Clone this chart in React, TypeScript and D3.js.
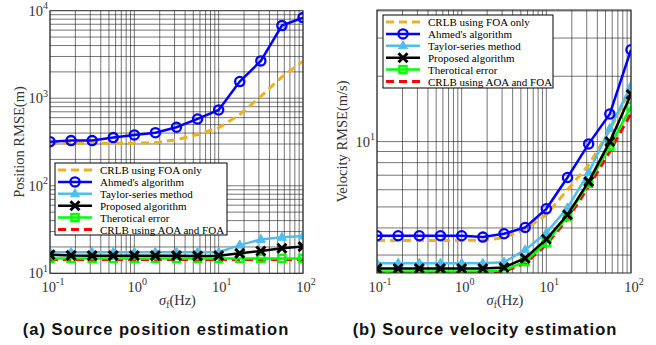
import React from "react";
import * as d3 from "d3";

const W = 656;
const H = 345;

// sigma_f values (Hz), quarter-decade steps
const xs = [0.1, 0.1778, 0.3162, 0.5623, 1, 1.778, 3.162, 5.623, 10, 17.78, 31.62, 56.23, 100];

const seriesNames = [
  "CRLB using FOA only",
  "Ahmed's algorithm",
  "Taylor-series method",
  "Proposed algorithm",
  "Therotical error",
  "CRLB using AOA and FOA",
];

// (a) position RMSE (m)
const posCrlbFoa = [305, 305, 305, 305, 306, 311, 335, 385, 460, 650, 1050, 1750, 2650];
const posAhmed = [319, 328, 328, 355, 381, 404, 466, 580, 735, 1550, 2670, 6760, 8340];
const posTaylor = [17.4, 17.4, 17.4, 17.4, 17.4, 17.4, 17.4, 17.4, 17.4, 21, 24.4, 25.8, 26.7];
const posProposed = [16.3, 16.0, 15.9, 15.9, 15.9, 15.9, 15.9, 15.8, 15.9, 16.9, 18.0, 19.3, 20.2];
const posTheory = [14.8, 14.8, 14.8, 14.8, 14.8, 14.8, 14.8, 14.8, 14.8, 14.8, 14.8, 14.8, 14.8];
const posCrlbAll = [14.4, 14.4, 14.4, 14.4, 14.4, 14.4, 14.4, 14.4, 14.4, 14.4, 14.4, 14.4, 14.4];

// (b) velocity RMSE (m/s)
const velCrlbFoa = [3.5, 3.5, 3.5, 3.5, 3.5, 3.52, 3.6, 3.95, 4.6, 6.0, 7.8, 11.3, 17.5];
const velAhmed = [3.68, 3.68, 3.68, 3.68, 3.68, 3.63, 3.76, 4.02, 4.9, 6.83, 9.76, 13.4, 26.5];
const velTaylor = [2.75, 2.75, 2.75, 2.75, 2.75, 2.75, 2.78, 3.17, 3.8, 4.95, 7.2, 11.5, 18.1];
const velProposed = [2.6, 2.6, 2.6, 2.6, 2.6, 2.6, 2.63, 2.9, 3.55, 4.6, 6.54, 10.0, 16.5];
const velTheory = [2.52, 2.52, 2.52, 2.52, 2.52, 2.52, 2.55, 2.8, 3.42, 4.52, 6.43, 9.5, 14.5];
const velCrlbAll = [2.49, 2.49, 2.49, 2.49, 2.49, 2.49, 2.52, 2.75, 3.35, 4.4, 6.2, 9.0, 13.5];

const xTickExps = [-1, 0, 1, 2];
const posYTickExps = [1, 2, 3, 4];
const velYTickExps = [1];

const styles = [
  { color: "#edb120", width: 3, dash: "8,5", marker: "none" },
  { color: "#0000ff", width: 2.5, dash: null, marker: "circle" },
  { color: "#4dbeee", width: 2.5, dash: null, marker: "triangle" },
  { color: "#000000", width: 2.5, dash: null, marker: "x" },
  { color: "#00ff00", width: 2.5, dash: null, marker: "square" },
  { color: "#ff0000", width: 3, dash: "8,5", marker: "none" },
];
// draw order: CRLB all at the bottom
const drawOrder = [5, 4, 0, 2, 3, 1];

const serif = "'Liberation Serif', 'Times New Roman', serif";

function Marker({ kind, x, y, color }: { kind: string; x: number; y: number; color: string }) {
  if (kind === "circle")
    return <circle cx={x} cy={y} r={4.6} fill="none" stroke={color} strokeWidth={2.3} />;
  if (kind === "triangle")
    return <path d={`M${x},${y - 5}L${x + 4.5},${y + 3}L${x - 4.5},${y + 3}Z`} fill={color} stroke={color} strokeWidth={1} />;
  if (kind === "x")
    return (
      <path d={`M${x - 4.5},${y - 4.5}L${x + 4.5},${y + 4.5}M${x - 4.5},${y + 4.5}L${x + 4.5},${y - 4.5}`} stroke={color} strokeWidth={3} />
    );
  if (kind === "square")
    return <rect x={x - 3.6} y={y - 3.6} width={7.2} height={7.2} fill="none" stroke={color} strokeWidth={2.3} />;
  return null;
}

function Pow10({ x, y, e, anchor }: { x: number; y: number; e: number; anchor: string }) {
  return (
    <text x={x} y={y} textAnchor={anchor} fontFamily={serif} fontSize={14.5} fill="#333">
      10<tspan dy={-6.5} fontSize={10}>{e}</tspan>
    </text>
  );
}

type PanelProps = {
  id: string;
  left: number;
  right: number;
  top: number;
  bottom: number;
  yDomain: [number, number];
  yTickExps: number[];
  data: number[][];
  legend: { x: number; y: number; w: number; h: number };
  ylabel: string;
  ylabelX: number;
  caption: string;
  captionX: number;
};

function Panel(p: PanelProps) {
  const x = d3.scaleLog().domain([0.1, 100]).range([p.left, p.right]);
  const y = d3.scaleLog().domain(p.yDomain).range([p.bottom, p.top]);

  const xGrid: number[] = [];
  for (let e = -1; e < 2; e++) for (let k = 1; k <= 9; k++) xGrid.push(k * Math.pow(10, e));
  xGrid.push(100);
  const yGrid: number[] = [];
  for (let e = 0; e < 4; e++)
    for (let k = 1; k <= 9; k++) {
      const v = k * Math.pow(10, e);
      if (v >= p.yDomain[0] * 0.999 && v <= p.yDomain[1] * 1.001) yGrid.push(v);
    }

  const line = d3
    .line<number>()
    .x((_, i) => x(xs[i]))
    .y((d) => y(d));

  const cx = (p.left + p.right) / 2;
  const cy = (p.top + p.bottom) / 2;

  return (
    <g>
      <defs>
        <clipPath id={p.id}>
          <rect x={p.left} y={p.top} width={p.right - p.left} height={p.bottom - p.top} />
        </clipPath>
      </defs>
      <rect x={p.left} y={p.top} width={p.right - p.left} height={p.bottom - p.top} fill="#fff" />
      <g stroke="#1a1a1a" strokeWidth={0.8} strokeOpacity={0.75}>
        {xGrid.map((v, i) => (
          <line key={"gx" + i} x1={x(v)} x2={x(v)} y1={p.top} y2={p.bottom} />
        ))}
        {yGrid.map((v, i) => (
          <line key={"gy" + i} x1={p.left} x2={p.right} y1={y(v)} y2={y(v)} />
        ))}
      </g>
      <g clipPath={`url(#${p.id})`}>
        {drawOrder.map((si) => {
          const s = styles[si];
          return (
            <g key={"s" + si}>
              <path
                d={line(p.data[si]) || ""}
                fill="none"
                stroke={s.color}
                strokeWidth={s.width}
                strokeDasharray={s.dash || undefined}
              />
              {p.data[si].map((v, i) => (
                <Marker key={i} kind={s.marker} x={x(xs[i])} y={y(v)} color={s.color} />
              ))}
            </g>
          );
        })}
      </g>
      <rect x={p.left} y={p.top} width={p.right - p.left} height={p.bottom - p.top} fill="none" stroke="#262626" strokeWidth={1} />

      {xTickExps.map((e) => (
        <Pow10 key={"xt" + e} x={x(Math.pow(10, e)) + 3} y={p.bottom + 18.5} e={e} anchor="middle" />
      ))}
      {p.yTickExps.map((e) => (
        <Pow10 key={"yt" + e} x={p.left - 2} y={y(Math.pow(10, e)) + 5} e={e} anchor="end" />
      ))}

      <text x={cx + 1} y={p.bottom + 32} textAnchor="middle" fontFamily={serif} fontSize={14.5} fill="#333">
        <tspan fontStyle="italic">σ</tspan>
        <tspan dy={3} fontSize={9.5}>f</tspan>
        <tspan dy={-3}>(Hz)</tspan>
      </text>
      <text
        transform={`translate(${p.ylabelX},${cy}) rotate(-90)`}
        textAnchor="middle"
        fontFamily={serif}
        fontSize={14.5}
        fill="#333"
      >
        {p.ylabel}
      </text>

      <g>
        <rect x={p.legend.x} y={p.legend.y} width={p.legend.w} height={p.legend.h} fill="#fff" stroke="#000" strokeWidth={1} />
        {seriesNames.map((name, i) => {
          const s = styles[i];
          const ry = p.legend.y + 7 + i * 11.9;
          const lx0 = p.legend.x + 3;
          const lx1 = p.legend.x + 37;
          return (
            <g key={"lg" + i}>
              <line x1={lx0} x2={lx1} y1={ry} y2={ry} stroke={s.color} strokeWidth={s.width} strokeDasharray={s.dash || undefined} />
              <Marker kind={s.marker} x={(lx0 + lx1) / 2} y={ry} color={s.color} />
              <text x={p.legend.x + 45} y={ry + 4} fontFamily={serif} fontSize={11} fill="#000">
                {name}
              </text>
            </g>
          );
        })}
      </g>

      <text
        x={p.captionX}
        y={334.5}
        textAnchor="middle"
        fontFamily="'Liberation Sans', Arial, sans-serif"
        fontWeight="bold"
        fontSize={16.5}
        letterSpacing={1}
        fill="#111"
      >
        {p.caption}
      </text>
    </g>
  );
}

export default function App() {
  return (
    <svg width={W} height={H} style={{ position: "absolute", left: 0, top: 0, background: "#fff" }}>
      <Panel
        id="clipA"
        left={50}
        right={303}
        top={10.7}
        bottom={273.3}
        yDomain={[10, 10000]}
        yTickExps={posYTickExps}
        data={[posCrlbFoa, posAhmed, posTaylor, posProposed, posTheory, posCrlbAll]}
        legend={{ x: 55, y: 163, w: 172, h: 72 }}
        ylabel="Position RMSE(m)"
        ylabelX={24}
        caption="(a) Source position estimation"
        captionX={156}
      />
      <Panel
        id="clipB"
        left={377}
        right={631}
        top={10}
        bottom={273}
        yDomain={[2.48, 40.4]}
        yTickExps={velYTickExps}
        data={[velCrlbFoa, velAhmed, velTaylor, velProposed, velTheory, velCrlbAll]}
        legend={{ x: 383, y: 15, w: 170, h: 73 }}
        ylabel="Velocity RMSE(m/s)"
        ylabelX={347}
        caption="(b) Source velocity estimation"
        captionX={485}
      />
    </svg>
  );
}
